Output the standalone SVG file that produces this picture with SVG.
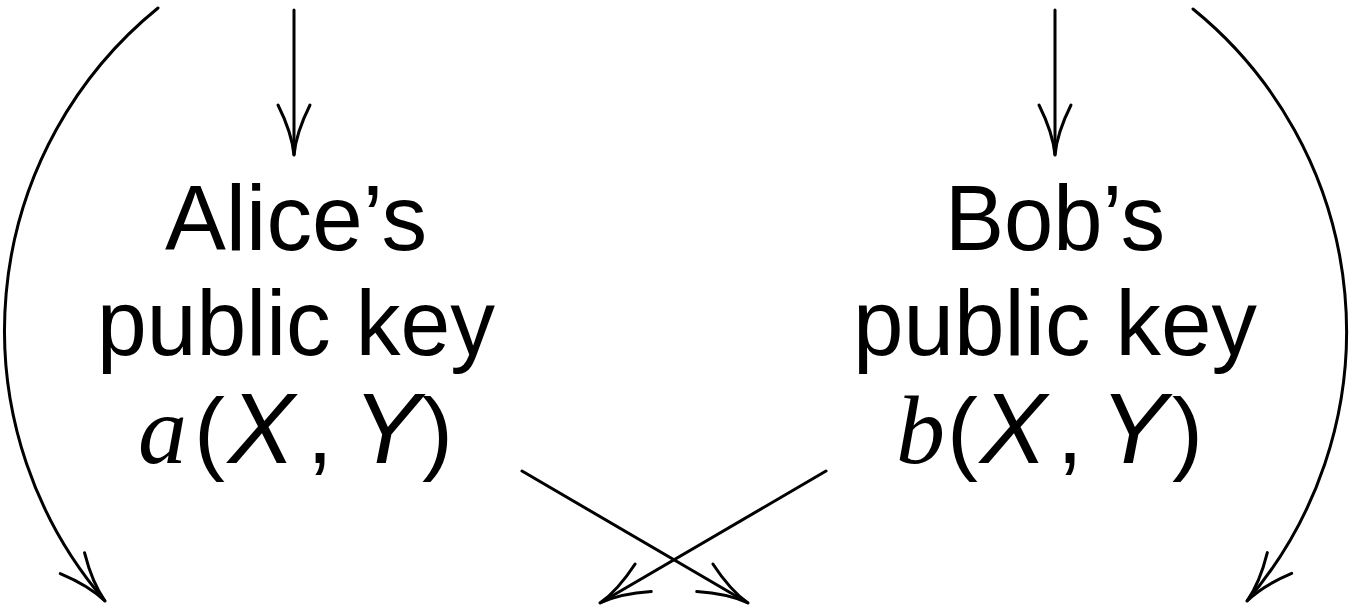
<svg xmlns="http://www.w3.org/2000/svg" width="1356" height="608" viewBox="0 0 1356 608">
<style>
.t{font-family:"Liberation Sans",Arial,sans-serif;font-size:93px;fill:#000}
.mi{font-family:"Liberation Serif","Times New Roman",serif;font-style:italic;font-size:98px}
.si{font-style:italic;font-size:100px}
.c{fill:none;stroke:#000;stroke-width:3;stroke-linecap:round}
</style>
<defs>
<marker id="ah" markerUnits="userSpaceOnUse" orient="auto" refX="0" refY="0" markerWidth="60" markerHeight="40" viewBox="-55 -20 60 40" overflow="visible">
<path d="M-50,-16 Q-22,-2 0,0 Q-22,2 -50,16" fill="none" stroke="#000" stroke-width="3" stroke-linecap="round"/>
</marker>
</defs>
<rect width="1356" height="608" fill="#fff"/>
<g id="connectors">
<path class="c" d="M294,10 L294,155" marker-end="url(#ah)"/>
<path class="c" d="M1055,10 L1055,155" marker-end="url(#ah)"/>
<path class="c" d="M158,8 A415,415 0 0 0 105,601" marker-end="url(#ah)"/>
<path class="c" d="M1193,9 A415,415 0 0 1 1247,601" marker-end="url(#ah)"/>
<path class="c" d="M522,471 L748,603" marker-end="url(#ah)"/>
<path class="c" d="M826,471 L600,603" marker-end="url(#ah)"/>
</g>
<g id="alice">
<text class="t" x="296" y="250" text-anchor="middle" textLength="262" lengthAdjust="spacingAndGlyphs">Alice’s</text>
<text class="t" x="296" y="355" text-anchor="middle" textLength="398" lengthAdjust="spacingAndGlyphs">public key</text>
<text class="t" y="463"><tspan class="mi" x="138">a</tspan><tspan x="194">(</tspan><tspan class="si" x="228">X</tspan><tspan x="307">,</tspan><tspan class="si" x="353">Y</tspan><tspan x="422">)</tspan></text>
</g>
<g id="bob">
<text class="t" x="1055" y="250" text-anchor="middle" textLength="220" lengthAdjust="spacingAndGlyphs">Bob’s</text>
<text class="t" x="1055" y="355" text-anchor="middle" textLength="404" lengthAdjust="spacingAndGlyphs">public key</text>
<text class="t" y="463"><tspan class="mi" x="896">b</tspan><tspan x="947">(</tspan><tspan class="si" x="980">X</tspan><tspan x="1057">,</tspan><tspan class="si" x="1100">Y</tspan><tspan x="1172">)</tspan></text>
</g>
</svg>
